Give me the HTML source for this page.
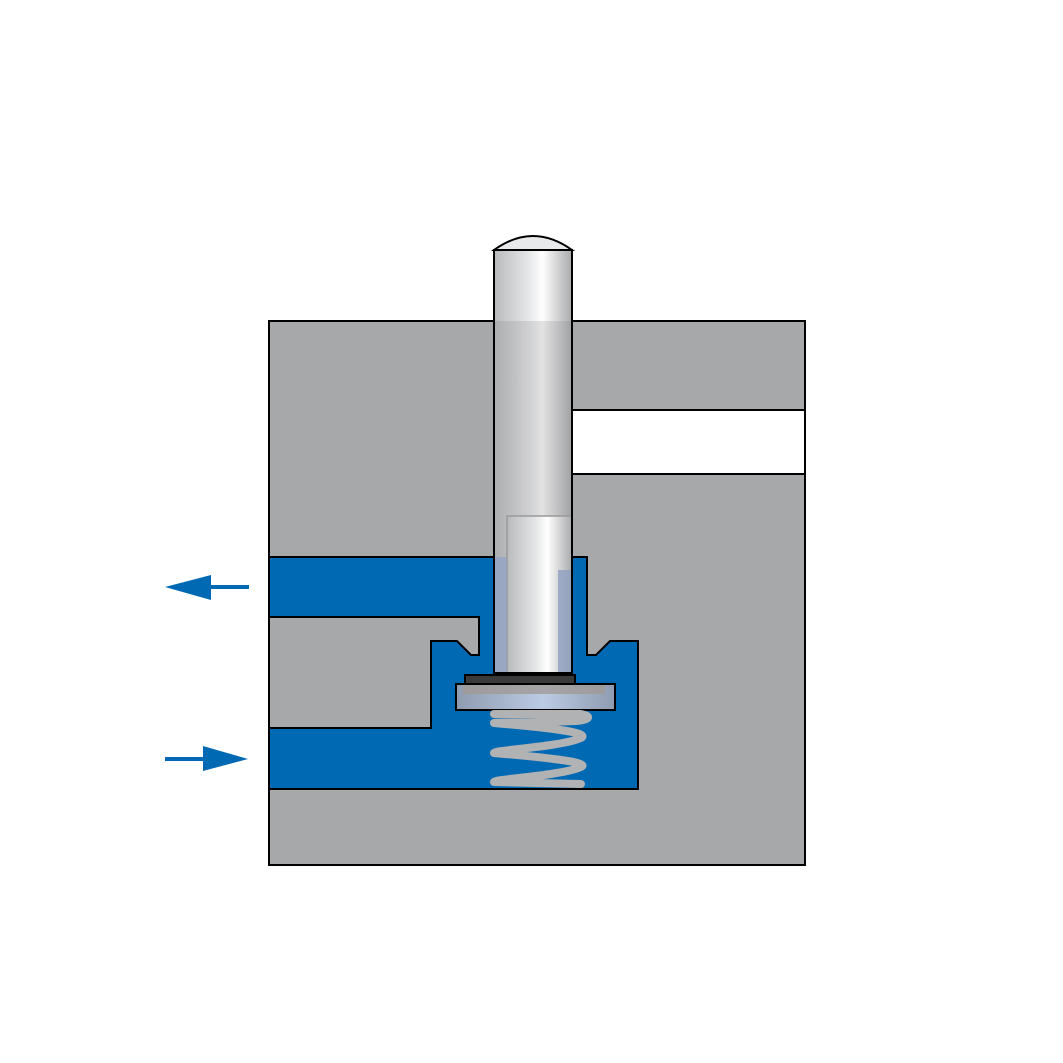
<!DOCTYPE html>
<html><head><meta charset="utf-8"><style>html,body{margin:0;padding:0;background:#fff}svg{display:block}</style></head>
<body>
<svg width="1063" height="1063" viewBox="0 0 1063 1063" xmlns="http://www.w3.org/2000/svg">
<defs>
<linearGradient id="pg" x1="0" x2="1" y1="0" y2="0">
<stop offset="0" stop-color="#b9babc"/><stop offset="0.45" stop-color="#e6e7e8"/><stop offset="0.62" stop-color="#ffffff"/><stop offset="1" stop-color="#a9aaac"/>
</linearGradient>
<linearGradient id="dg" x1="0" x2="1" y1="0" y2="0">
<stop offset="0" stop-color="#8e9bb0"/><stop offset="0.55" stop-color="#bccbe4"/><stop offset="1" stop-color="#8e9bb0"/>
</linearGradient>
</defs>
<rect x="269" y="321" width="536" height="544" fill="#a7a8aa" stroke="#000" stroke-width="2"/>
<rect x="572" y="410" width="233" height="64" fill="#fff" stroke="#000" stroke-width="2"/>
<path d="M269,557 L587,557 L587,655 L596,655 L610,641 L638,641 L638,789 L269,789 L269,728 L431,728 L431,641 L457,641 L471,655 L479,655 L479,617 L269,617 Z" fill="#0069b4" stroke="#000" stroke-width="2"/>
<path d="M494,250 Q533,222 572,250 Z" fill="#e8e9ea" stroke="#000" stroke-width="2"/>
<rect x="494" y="250" width="78" height="423" fill="url(#pg)"/>
<rect x="494" y="321" width="78" height="236" fill="#7e7f82" opacity="0.22"/>
<rect x="507" y="516" width="65" height="157" fill="url(#pg)" stroke="#999" stroke-width="1.5"/>
<rect x="494" y="557" width="13" height="116" fill="#8fa0c0" opacity="0.8"/>
<rect x="558" y="570" width="14" height="103" fill="#8fa0c0" opacity="0.8"/>
<rect x="494" y="250" width="78" height="423" fill="none" stroke="#000" stroke-width="2"/>
<rect x="465" y="675" width="110" height="10" fill="#3a3a3a" stroke="#000" stroke-width="2"/>
<rect x="456" y="684" width="159" height="26" fill="url(#dg)" stroke="#000" stroke-width="2"/>
<rect x="463" y="685" width="142" height="9" fill="#a09a96" opacity="0.8"/>
<path d="M494,714 L581,714 C592,716 590,720 576,721 C520,723 494,722 494,723 M494,723 C540,727 592,732 581,738 C560,747 494,750 494,753 M494,753 C540,757 592,762 581,767 C560,776 494,779 494,782 M494,782 L581,784" fill="none" stroke="#b1b2b3" stroke-width="8" stroke-linecap="round" stroke-linejoin="round"/>
<rect x="205" y="585" width="44" height="4" fill="#0069b4"/>
<polygon points="165,587 211,575 211,600" fill="#0069b4"/>
<rect x="165" y="757" width="44" height="4" fill="#0069b4"/>
<polygon points="248,759 203,746 203,771" fill="#0069b4"/>
</svg>
</body></html>
